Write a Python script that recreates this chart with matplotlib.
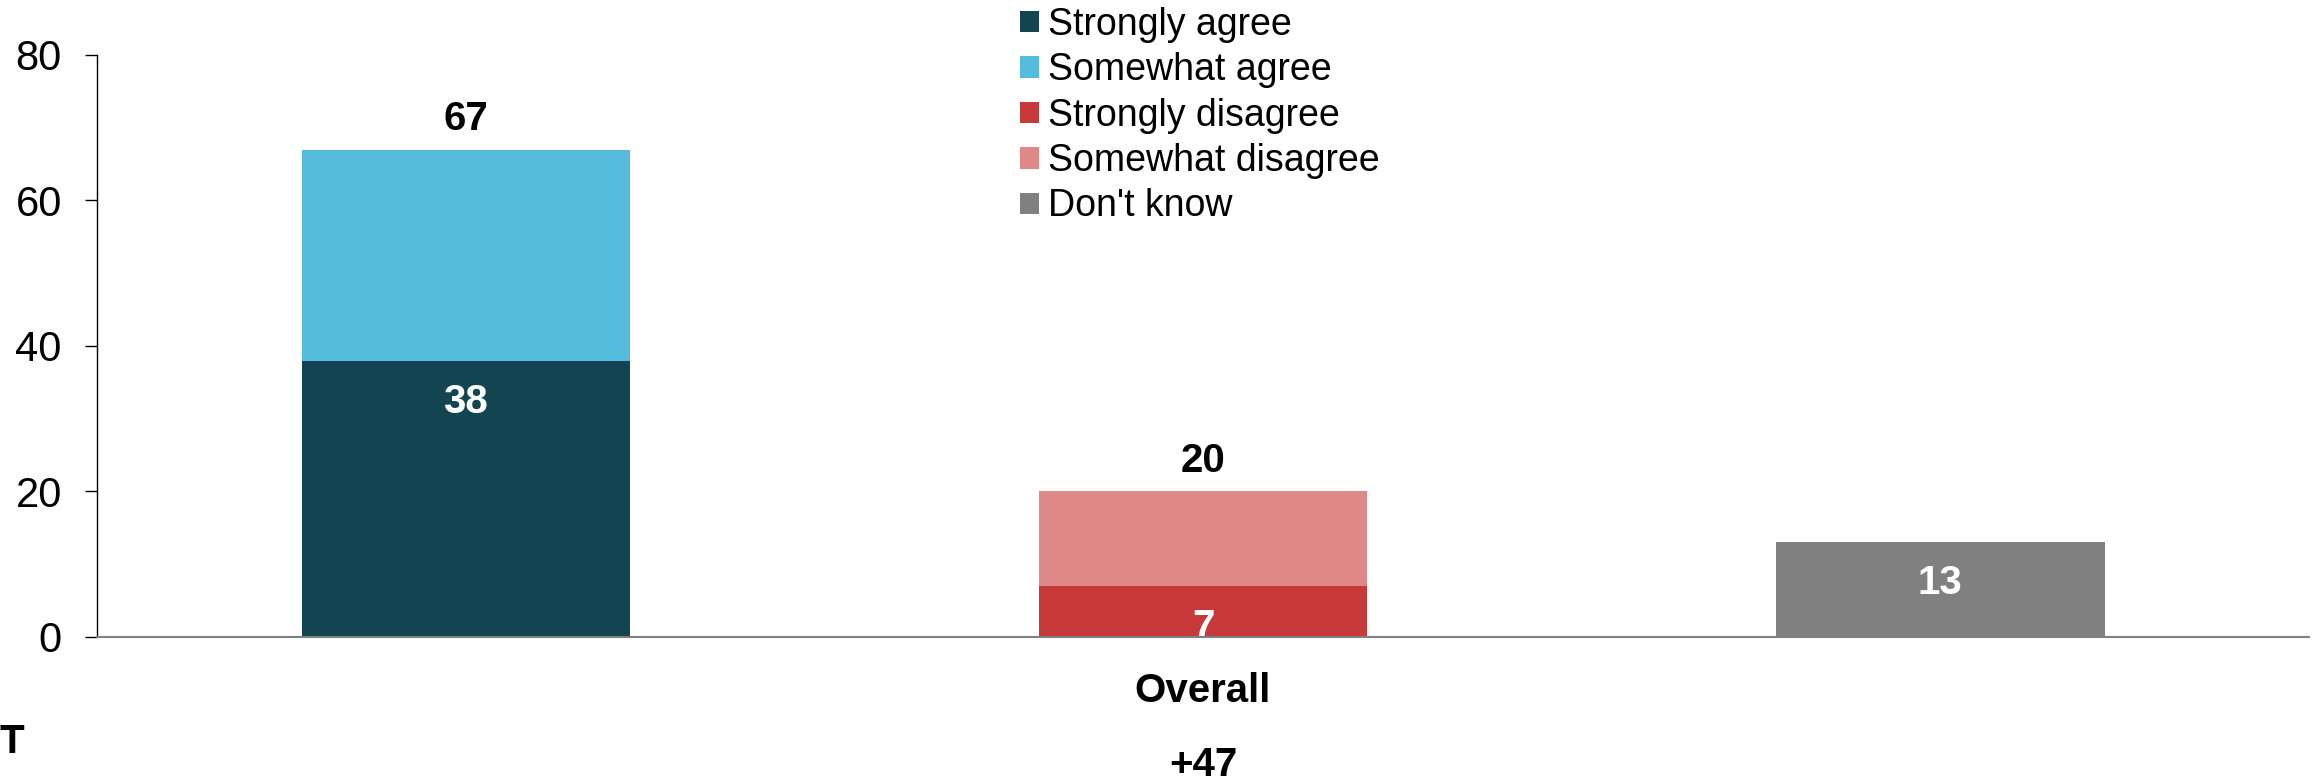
"""
Agree / disagree stacked bars - overall net score
"""

import matplotlib.pyplot as plt
from matplotlib.patches import Patch

plt.rcParams['font.family'] = ['Liberation Sans', 'DejaVu Sans']

# Data
groups = ["Agree", "Disagree", "Don't know"]
category = "Overall"
strongly_agree = [38, 0, 0]
somewhat_agree = [29, 0, 0]
strongly_disagree = [0, 7, 0]
somewhat_disagree = [0, 13, 0]
dont_know = [0, 0, 13]
net_score = "+47"

colors = {
    "Strongly agree": "#134452",
    "Somewhat agree": "#55bcdd",
    "Strongly disagree": "#c83a3a",
    "Somewhat disagree": "#df8888",
    "Don't know": "#808080",
}

fig = plt.figure(figsize=(23.18, 7.83), dpi=100)
fig.patch.set_facecolor('white')
ax = fig.add_axes([0.042, 0.1865, 0.954, 0.7433])

x = list(range(len(groups)))
width = 0.446
fs = 29

# bars
ax.bar(x[0], strongly_agree[0], width, color=colors["Strongly agree"])
ax.bar(x[0], somewhat_agree[0], width, bottom=strongly_agree[0],
       color=colors["Somewhat agree"])
ax.bar(x[1], strongly_disagree[1], width, color=colors["Strongly disagree"])
ax.bar(x[1], somewhat_disagree[1], width, bottom=strongly_disagree[1],
       color=colors["Somewhat disagree"])
ax.bar(x[2], dont_know[2], width, color=colors["Don't know"])

# inner labels (white) hanging from the top of the bottom segment
for xi, val in [(x[0], strongly_agree[0]), (x[1], strongly_disagree[1]),
                (x[2], dont_know[2])]:
    ax.annotate(f'{val}', (xi, val), xytext=(0, -37.5), textcoords='offset points',
                ha='center', va='baseline', fontsize=fs, fontweight='bold',
                color='white', annotation_clip=False, zorder=5)

# totals above stacked bars
tot_agree = strongly_agree[0] + somewhat_agree[0]
tot_dis = strongly_disagree[1] + somewhat_disagree[1]
for xi, val in [(x[0], tot_agree), (x[1], tot_dis)]:
    ax.annotate(f'{val}', (xi, val), xytext=(0, 14), textcoords='offset points',
                ha='center', va='baseline', fontsize=fs, fontweight='bold',
                color='black')

ax.set_xlim(-0.5, 2.5)
ax.set_ylim(0, 80)
ax.set_yticks([0, 20, 40, 60, 80])
ax.tick_params(axis='y', labelsize=30, length=8.6, width=1.0, pad=17, colors='black')
ax.set_xticks([x[1]])
ax.set_xticklabels([category], fontsize=fs, fontweight='bold')
ax.tick_params(axis='x', length=0, pad=25)

for s in ['top', 'right']:
    ax.spines[s].set_visible(False)
ax.spines['left'].set_linewidth(1.0)
ax.spines['bottom'].set_color('#808080')
ax.spines['bottom'].set_linewidth(1.5)
ax.spines['bottom'].set_zorder(6)

# net score and stray label under the axis
fig.text(1203 / 2318, 1 - 776 / 783, net_score, ha='center', va='baseline',
         fontsize=fs, fontweight='bold')
fig.text(0.0, 1 - 753 / 783, 'T', ha='left', va='baseline',
         fontsize=fs, fontweight='bold')

handles = [Patch(facecolor=c, label=k) for k, c in colors.items()]
fig.legend(handles=handles, loc='upper left', bbox_to_anchor=(1020 / 2318, 1 - 7 / 783),
           frameon=False, fontsize=27, handlelength=0.5, handleheight=0.5,
           handletextpad=0.24, labelspacing=0.25, borderpad=0, borderaxespad=0)

plt.savefig('out.png', dpi=100, facecolor='white')
